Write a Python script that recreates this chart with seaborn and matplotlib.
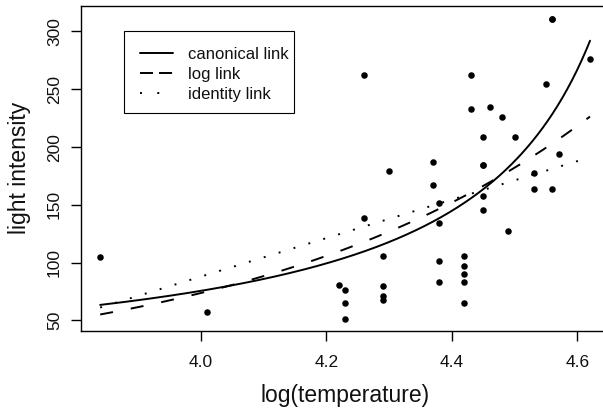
import numpy as np
import pandas as pd
import matplotlib
matplotlib.use("Agg")
import matplotlib.pyplot as plt
from matplotlib.lines import Line2D
from matplotlib.patches import Rectangle
import seaborn as sns

# star data (log temperature vs light intensity); two points are doubled
# at (4.56, 311.0) and (4.45, 184.9)
log_temp = [4.37, 4.56, 4.26, 4.56, 4.30, 4.46, 3.84, 4.57, 4.26, 4.37,
            4.43, 4.48, 4.01, 4.29, 4.42, 4.23, 4.42, 4.23, 4.29, 4.29,
            4.42, 4.49, 4.38, 4.42, 4.29, 4.38, 4.22, 4.38, 4.56, 4.45,
            4.23, 4.62, 4.53, 4.45, 4.53, 4.43, 4.38, 4.45, 4.50, 4.45,
            4.55, 4.45, 4.42]
light = [186.8, 311.0, 138.4, 311.0, 179.5, 235.1, 104.6, 194.4, 262.4, 167.3,
         232.8, 225.9, 57.4, 70.8, 97.5, 51.4, 65.4, 65.4, 79.8, 68.0,
         83.1, 127.7, 151.4, 105.6, 105.6, 134.3, 80.6, 83.1, 164.0, 184.9,
         76.7, 275.9, 164.0, 184.9, 177.7, 262.4, 101.5, 157.6, 208.5, 208.5,
         254.7, 145.5, 90.0]
link_names = ["canonical link", "log link", "identity link"]

stars = pd.DataFrame({"log_temp": log_temp, "light": light})


# Gamma GLM fitted by IRLS, one fit per link function
def gamma_glm(x, y, link):
    X = np.column_stack([np.ones_like(x), x])
    mu = y.copy()
    for _ in range(100):
        if link == "inverse":
            eta, deta, w = 1 / mu, -1 / mu**2, mu**2
        elif link == "log":
            eta, deta, w = np.log(mu), 1 / mu, np.ones_like(mu)
        else:
            eta, deta, w = mu, np.ones_like(mu), 1 / mu**2
        z = eta + (y - mu) * deta
        W = np.diag(w)
        beta = np.linalg.solve(X.T @ W @ X, X.T @ W @ z)
        eta = X @ beta
        if link == "inverse":
            mu = 1 / eta
        elif link == "log":
            mu = np.exp(eta)
        else:
            mu = eta
    return beta


x = stars["log_temp"].to_numpy(float)
y = stars["light"].to_numpy(float)
grid = np.linspace(x.min(), x.max(), 300)
fits = {}
b = gamma_glm(x, y, "inverse")
fits["canonical link"] = 1 / (b[0] + b[1] * grid)
b = gamma_glm(x, y, "log")
fits["log link"] = np.exp(b[0] + b[1] * grid)
b = gamma_glm(x, y, "identity")
fits["identity link"] = b[0] + b[1] * grid

sns.set_theme(style="white")
plt.rcParams["font.family"] = ["Liberation Sans", "DejaVu Sans"]

W, H = 603, 412
ax_l, ax_r, ax_t, ax_b = 80.7, 609.5, 5.7, 331
fig = plt.figure(figsize=(W / 100, H / 100), dpi=100)
ax = fig.add_axes([ax_l / W, (H - ax_b) / H, (ax_r - ax_l) / W, (ax_b - ax_t) / H])

sns.scatterplot(data=stars, x="log_temp", y="light", color="black",
                s=22, linewidth=0, ax=ax, zorder=3)

# dash lengths are multiplied by the line width (1.4)
styles = {"canonical link": dict(linestyle="-"),
          "log link": dict(linestyle=(0, (6.7, 9.3))),
          "identity link": dict(linestyle=(0, (1.0, 7.0)))}
for name in link_names:
    sns.lineplot(x=grid, y=fits[name], color="black", lw=1.4,
                 sort=False, estimator=None, ax=ax, **styles[name])

ax.set_xlim(3.809, 4.651)
ax.set_ylim(40.9, 322.3)
ax.set_xticks([4.0, 4.2, 4.4, 4.6])
ax.set_xticklabels(["4.0", "4.2", "4.4", "4.6"])
ax.set_yticks([50, 100, 150, 200, 250, 300])
for lab in ax.get_yticklabels():
    lab.set_rotation(90)
    lab.set_va("center")
ax.tick_params(axis="both", direction="out", length=7.5, width=1,
               color="black", labelsize=12.5, labelcolor="#111111",
               bottom=True, left=True)
ax.tick_params(axis="x", pad=10)
ax.tick_params(axis="y", pad=6)
for sp in ax.spines.values():
    sp.set_color("black")
    sp.set_linewidth(1.0)

ax.set_xlabel("log(temperature)", fontsize=16.5, color="#111111")
ax.set_ylabel("light intensity", fontsize=16.5, color="#111111")
ax.xaxis.set_label_coords(0.5, -(384 - ax_b) / (ax_b - ax_t))
ax.yaxis.set_label_coords(-(ax_l - 30.5) / (ax_r - ax_l), 0.5)

handles = [Line2D([], [], color="black", lw=1.4, linestyle="-"),
           Line2D([], [], color="black", lw=1.4, linestyle=(0, (6.7, 3.1))),
           Line2D([], [], color="black", lw=1.4, linestyle=(0, (1.0, 7.9)))]
leg = ax.legend(handles, link_names, loc="upper left",
                bbox_to_anchor=(0.0825, 0.923), borderaxespad=0,
                fontsize=12, handlelength=2.0, handletextpad=0.9,
                borderpad=0.95, labelspacing=0.3, frameon=False)
for t in leg.get_texts():
    t.set_color("#111111")

# legend box as in the reference (text nearly touches the right edge)
bx0, bx1, by0, by1 = 124.3, 294, 30.7, 113.3
ax.add_patch(Rectangle(((bx0 - ax_l) / (ax_r - ax_l), 1 - (by1 - ax_t) / (ax_b - ax_t)),
                       (bx1 - bx0) / (ax_r - ax_l), (by1 - by0) / (ax_b - ax_t),
                       transform=ax.transAxes, fill=False, edgecolor="black",
                       linewidth=0.8, zorder=5))

fig.savefig("out.png", dpi=100)
